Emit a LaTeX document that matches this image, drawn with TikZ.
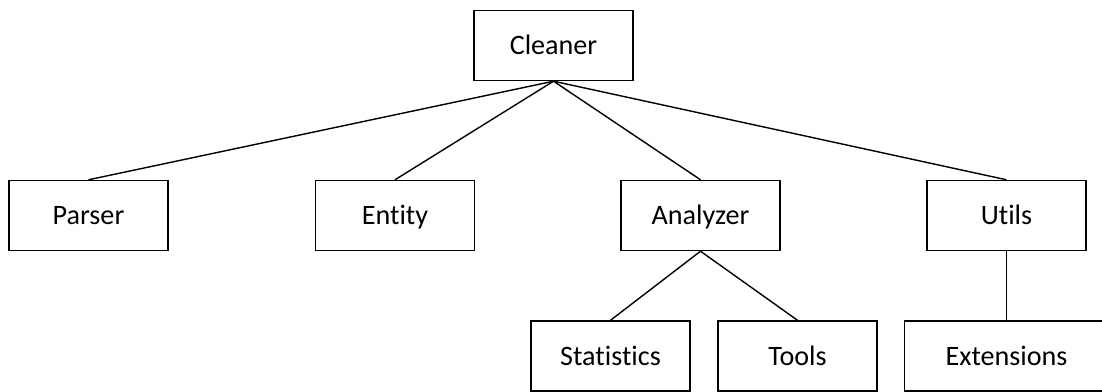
\documentclass[tikz,border=0pt]{standalone}
\usepackage{fontspec}
\setmainfont[Ligatures=NoCommon]{Carlito}
\begin{document}
\begin{tikzpicture}[x=0.025cm,y=-0.025cm]
\tikzstyle{module}=[draw=black,line width=1pt,minimum width=3.975cm,minimum height=1.75cm,inner sep=0pt,text height=13pt,text depth=0pt,font=\fontsize{20}{24}\selectfont]
\tikzstyle{link}=[black,line width=1pt]
\useasboundingbox (0,0) rectangle (1102,392);
\clip (0,0) rectangle (1102,392);
\node [module] (cleaner) at (553.5,45.5) {Cleaner};
\node [module] (parser) at (88.5,215.5) {Parser};
\node [module] (entity) at (395,215.5) {Entity};
\node [module] (analyzer) at (700.5,215.5) {Analyzer};
\node [module] (utils) at (1006.5,215.5) {Utils};
\node [module] (statistics) at (610.5,356) {Statistics};
\node [module] (tools) at (797.5,356) {Tools};
\node [module,minimum width=5.1cm] (extensions) at (1006.5,356) {Extensions};
\draw [link] (cleaner.south) -- (parser.north);
\draw [link] (cleaner.south) -- (entity.north);
\draw [link] (cleaner.south) -- (analyzer.north);
\draw [link] (cleaner.south) -- (utils.north);
\draw [link] (analyzer.south) -- (statistics.north);
\draw [link] (analyzer.south) -- (tools.north);
\draw [link] (utils.south) -- (extensions.north);
\end{tikzpicture}
\end{document}
